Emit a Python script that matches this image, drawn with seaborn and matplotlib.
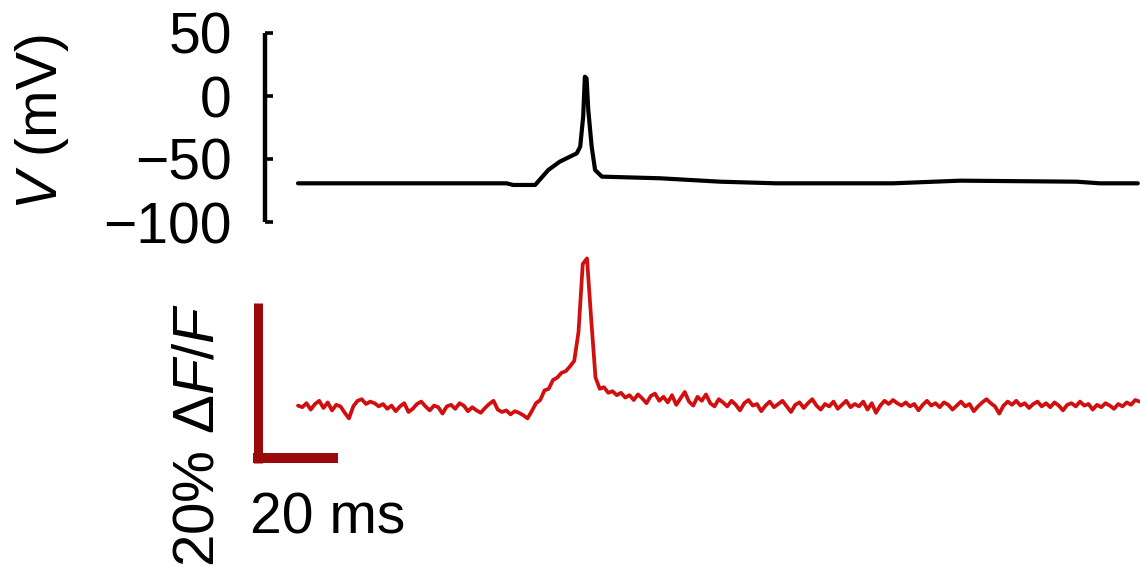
import numpy as np
import pandas as pd
import matplotlib
matplotlib.use("Agg")
import matplotlib.pyplot as plt
import seaborn as sns

# ---------------- data ----------------
# membrane potential trace (time in ms, voltage in mV)
v_time_ms = [0, 49.1, 50.6, 55.8, 58.9, 61.6, 65.6, 66.4, 67.1, 67.5, 67.9, 68.3,
             69.1, 69.9, 71.5, 85.2, 99.3, 112.6, 140.0, 155.8, 183.2, 188.7, 197.6]
v_mv = [-69.3, -69.3, -70.6, -70.6, -58.7, -52.1, -45.5, -40.2, -16.4, 15.3, 14.0, -11.1,
        -40.2, -58.7, -64.0, -65.3, -68.0, -69.3, -69.3, -67.2, -68.0, -69.3, -69.3]

# fluorescence trace (% dF/F), one sample per ms
dff_pct = [
    0.3, 0.1, 0.6, -0.2, 0.5, 0.9, 0.0, 0.7, -0.3, 0.4,
    0.2, -0.6, -1.3, 0.2, 0.9, 1.1, 0.5, 0.8, 0.6, 0.2,
    0.5, -0.1, 0.3, -0.4, 0.2, 0.6, -0.5, -0.1, 0.5, 0.8,
    0.2, -0.3, 0.3, 0.1, -0.7, 0.2, 0.4, -0.1, 0.6, 0.3,
    -0.4, 0.1, -0.3, -0.6, 0.0, 0.5, 0.9, -0.2, -0.5, -0.3,
    -0.8, -0.4, -0.6, -0.9, -1.3, -0.4, 0.6, 1.0, 2.2, 2.4,
    3.5, 3.8, 4.4, 4.6, 5.2, 5.9, 9.5, 18.0, 18.7, 11.0,
    3.8, 2.4, 2.6, 1.9, 2.1, 1.6, 1.9, 1.3, 1.6, 1.0,
    1.7, 1.2, 0.6, 1.5, 1.8, 0.9, 1.4, 0.7, 1.6, 0.4,
    1.2, 2.0, 0.8, 0.3, 1.4, 0.9, 1.7, 0.6, 0.2, 1.1,
    0.7, 0.2, 0.9, 0.4, -0.3, 0.6, 1.0, 0.3, 0.5, -0.4,
    0.3, 0.8, 0.1, 0.5, 0.9, 0.2, -0.5, 0.4, 0.7, 0.0,
    0.6, 1.1, 0.3, -0.2, 0.5, 0.2, 0.8, -0.1, 0.4, 0.9,
    0.1, 0.5, 0.2, 0.8, -0.2, 0.6, -0.6, 0.3, 0.9, 0.5,
    1.0, 0.6, 0.3, 0.7, 0.2, 0.5, -0.3, 0.4, 0.9, 0.3,
    0.6, 0.1, 0.7, 0.4, -0.2, 0.3, 0.8, 0.2, 0.5, -0.4,
    0.2, 0.7, 1.1, 0.6, 0.2, -0.7, 0.3, 0.8, 0.4, 0.9,
    0.3, 0.6, 0.0, 0.5, 0.8, 0.2, 0.6, 0.1, 0.7, 0.3,
    -0.3, 0.4, 0.6, 0.2, 0.8, 0.3, 0.5, -0.2, 0.4, 0.1,
    0.6, 0.3, -0.1, 0.5, 0.2, 0.7, 0.4, 1.0, 0.8,
]
dff_time_ms = np.arange(len(dff_pct))

v_ticks = [-100, -50, 0, 50]
scale_ms = 20
scale_pct = 20

# ---------------- style ----------------
sns.set_style("white")
plt.rcParams["font.family"] = ["Liberation Sans", "DejaVu Sans"]
plt.rcParams["text.color"] = "black"
plt.rcParams["mathtext.fontset"] = "custom"
plt.rcParams["mathtext.rm"] = "Liberation Sans"
plt.rcParams["mathtext.it"] = "Liberation Sans:italic"
plt.rcParams["mathtext.default"] = "it"

W, H = 1140, 575
fig = plt.figure(figsize=(W / 100, H / 100), dpi=100)

px_per_ms = 4.25
x_start_px = 298
ax_left_px = 240
xlim = ((ax_left_px - x_start_px) / px_per_ms, (W - x_start_px) / px_per_ms)

# ---------------- top: voltage ----------------
ax1 = fig.add_axes([ax_left_px / W, 1 - 222 / H, (W - ax_left_px) / W, (222 - 33) / H])
df_v = pd.DataFrame({"t": v_time_ms, "v": v_mv})
sns.lineplot(data=df_v, x="t", y="v", ax=ax1, color="black", linewidth=3.0,
             estimator=None)
ax1.set_xlim(*xlim)
ax1.set_ylim(-100, 50)
for s in ["top", "right", "bottom"]:
    ax1.spines[s].set_visible(False)
ax1.spines["left"].set_position(("data", (265 - x_start_px) / px_per_ms))
ax1.spines["left"].set_linewidth(3.2)
ax1.spines["left"].set_color("black")
ax1.spines["left"].set_capstyle("butt")
ax1.set_xticks([])
ax1.set_yticks(v_ticks)
ax1.tick_params(axis="y", left=True, direction="in", length=6, width=2.6, pad=24,
                labelsize=41, colors="black")
ax1.set_xlabel("")
ax1.set_ylabel("")
ax1.patch.set_alpha(0)
fig.text(42 / W, 1 - 122 / H, r"$V$ (mV)", rotation=90, ha="center", va="center",
         fontsize=41)

# ---------------- bottom: fluorescence ----------------
px_per_pct = 8
base_px = 408
ax2 = fig.add_axes([ax_left_px / W, 1 - 470 / H, (W - ax_left_px) / W, (470 - 240) / H])
df_f = pd.DataFrame({"t": dff_time_ms, "f": dff_pct})
sns.lineplot(data=df_f, x="t", y="f", ax=ax2, color="#d10f0f", linewidth=2.7,
             estimator=None)
ax2.set_xlim(*xlim)
ax2.set_ylim(-(470 - base_px) / px_per_pct, (base_px - 240) / px_per_pct)
ax2.axis("off")

# scale bars
bar_color = "#9b0a0a"
x0 = (253 - x_start_px) / px_per_ms          # outer corner, ms
y0 = (base_px - 463) / px_per_pct            # outer corner, %
hw_x = 4.5 / px_per_ms
hw_y = 5.0 / px_per_pct
ax2.plot([x0 + hw_x, x0 + hw_x], [y0, y0 + scale_pct], color=bar_color,
         linewidth=6.5, solid_capstyle="butt", clip_on=False)
ax2.plot([x0, x0 + scale_ms], [y0 + hw_y, y0 + hw_y], color=bar_color,
         linewidth=7.2, solid_capstyle="butt", clip_on=False)

fig.text(250 / W, 1 - 533 / H, f"{scale_ms} ms", ha="left", va="baseline", fontsize=41)
fig.text(199 / W, 1 - 435 / H, f"{scale_pct}% Δ" + r"$F/F$", rotation=90,
         ha="center", va="center", fontsize=42)

fig.savefig("out.png", dpi=100, facecolor="white")
